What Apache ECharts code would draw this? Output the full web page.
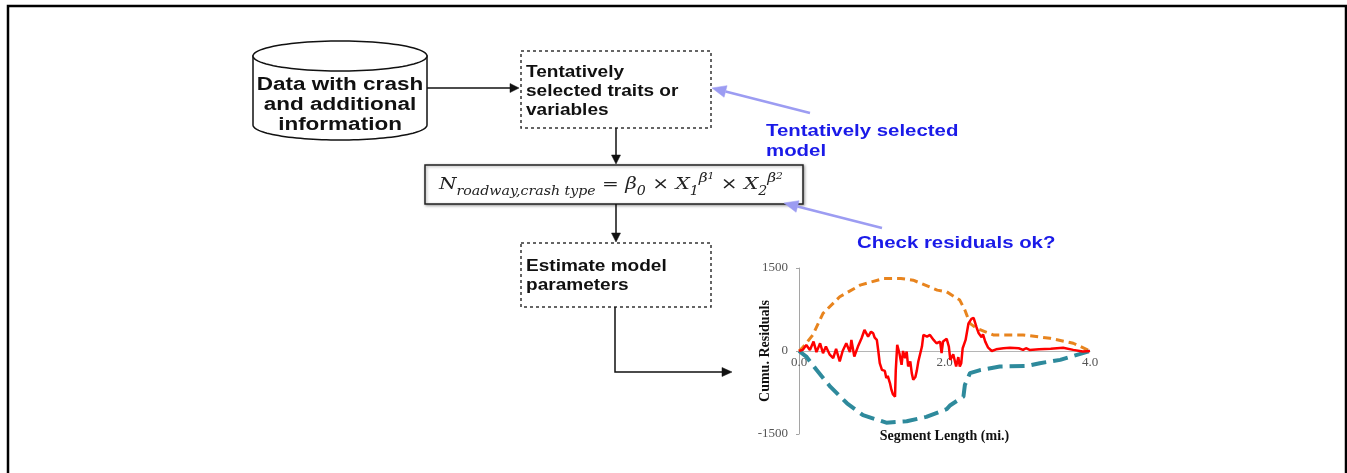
<!DOCTYPE html>
<html><head><meta charset="utf-8">
<script src="https://cdn.jsdelivr.net/npm/echarts@6/dist/echarts.min.js"></script>
<style>html,body{margin:0;padding:0;background:#fff}#c{width:1347px;height:473px}</style>
</head><body><div id="c"></div>
<script>
// ---- data ----
const residX = [0.00,0.05,0.10,0.15,0.20,0.24,0.29,0.33,0.37,0.42,0.47,0.51,0.56,0.60,0.65,0.70,0.72,0.76,0.81,0.86,0.90,0.95,0.99,1.02,1.04,1.07,1.09,1.11,1.14,1.18,1.20,1.22,1.25,1.27,1.29,1.32,1.33,1.35,1.38,1.41,1.43,1.46,1.48,1.50,1.53,1.55,1.57,1.60,1.62,1.64,1.66,1.69,1.71,1.73,1.76,1.80,1.85,1.89,1.94,1.96,1.98,2.03,2.06,2.08,2.12,2.16,2.19,2.21,2.23,2.25,2.27,2.29,2.33,2.37,2.40,2.44,2.47,2.49,2.51,2.53,2.56,2.60,2.65,2.71,2.81,2.90,3.02,3.04,3.08,3.12,3.17,3.30,3.46,3.63,3.77,3.90,4.00];
const residY = [0,20,110,20,170,-20,140,-40,80,-60,-130,40,-190,0,140,-20,200,-100,80,230,380,260,350,320,240,200,0,-220,-340,-360,-490,-450,-580,-700,-780,-825,-350,110,-40,-250,0,-130,-10,-280,-190,-400,-520,-470,-350,-190,-160,80,290,320,260,290,200,140,170,-40,170,220,80,-160,-60,-280,-110,-280,-220,50,60,200,500,580,600,430,320,350,250,300,170,60,0,30,50,60,50,70,20,50,20,30,40,60,20,-10,0];
const upperX = [0,0.05,0.19,0.33,0.56,0.84,1.16,1.40,1.57,1.90,2.03,2.21,2.28,2.35,2.44,2.67,3.08,3.45,3.77,4.0];
const upperY = [0,60,290,680,980,1190,1310,1310,1280,1100,1070,920,740,500,410,290,290,230,140,0];
const lowerX = [0,0.10,0.24,0.43,0.66,0.88,1.20,1.48,1.75,2.03,2.08,2.26,2.28,2.35,2.49,2.76,3.13,3.31,3.59,4.0];
const lowerY = [0,-100,-340,-645,-945,-1160,-1295,-1270,-1190,-1050,-980,-825,-615,-400,-345,-280,-270,-220,-160,0];
const yTicks = [-1500, 0, 1500];
const xTicks = [0, 2, 4];

const pair = (xs, ys) => xs.map((x, i) => [x, ys[i]]);

// ---- flowchart drawing helpers ----
const SANS = 'Liberation Sans, Arial, sans-serif';
function txt(x, y, lines, o) {
  o = o || {};
  return {
    type: 'text', x: x, y: y, scaleX: o.sx || 1.15, z: 10,
    style: {
      text: lines.join('\n'), x: 0, y: 0,
      font: 'bold ' + (o.size || 18) + 'px ' + SANS,
      fill: o.color || '#111', textAlign: o.align || 'left', textVerticalAlign: 'middle',
      lineHeight: o.lh || 20
    }
  };
}
function arrow(pts, color, lw, hl, hw) {
  const n = pts.length, a = pts[n - 2], b = pts[n - 1];
  const dx = b[0] - a[0], dy = b[1] - a[1], L = Math.hypot(dx, dy);
  const ux = dx / L, uy = dy / L;
  const base = [b[0] - ux * hl, b[1] - uy * hl];
  const linePts = pts.slice(0, n - 1).concat([base]);
  return [
    { type: 'polyline', z: 5, shape: { points: linePts }, style: { stroke: color, lineWidth: lw, fill: null } },
    { type: 'polygon', z: 5, shape: { points: [b, [base[0] - uy * hw, base[1] + ux * hw], [base[0] + uy * hw, base[1] - ux * hw]] }, style: { fill: color, stroke: color, lineWidth: 0.5 } }
  ];
}
function arcPts(cx, cy, rx, ry, a0, a1, steps) {
  const p = [];
  for (let i = 0; i <= steps; i++) {
    const t = a0 + (a1 - a0) * i / steps;
    p.push([cx + rx * Math.cos(t), cy + ry * Math.sin(t)]);
  }
  return p;
}
const dashBox = (x, y, w, h) => ({ type: 'rect', z: 4, shape: { x: x, y: y, width: w, height: h }, style: { fill: '#fff', stroke: '#333', lineWidth: 1.5, lineDash: [3, 3] } });

// cylinder geometry (sin >= 0 for angles PI..0, i.e. the lower half in screen coords)
const cyl = { cx: 340, top: 56, bot: 125, rx: 87, ry: 15 };
const cylBody = [[cyl.cx - cyl.rx, cyl.top]].concat(arcPts(cyl.cx, cyl.bot, cyl.rx, cyl.ry, Math.PI, 0, 60)).concat([[cyl.cx + cyl.rx, cyl.top]]);
const cylTop = arcPts(cyl.cx, cyl.top, cyl.rx, cyl.ry, 0, 2 * Math.PI, 90);

const BLUE = '#1a1ae8', LBLUE = '#9c9cf2';
const graphics = [
  // outer frame
  { type: 'rect', z: 1, shape: { x: 8, y: 6, width: 1338, height: 500 }, style: { fill: null, stroke: '#000', lineWidth: 2.5 } },
  // cylinder
  { type: 'polygon', z: 4, shape: { points: cylBody }, style: { fill: '#fff', stroke: '#111', lineWidth: 1.5 } },
  { type: 'polygon', z: 4, shape: { points: cylTop }, style: { fill: '#fff', stroke: '#111', lineWidth: 1.5 } },
  txt(340, 105, ['Data with crash', 'and additional', 'information'], { align: 'center', sx: 1.25, size: 18, lh: 20 }),
  // dashed box 1
  dashBox(521, 51, 190, 77),
  txt(526, 91, ['Tentatively', 'selected traits or', 'variables'], { sx: 1.12, size: 17, lh: 19 }),
  // formula box
  { type: 'rect', z: 4, shape: { x: 425, y: 165, width: 378, height: 39 }, style: { fill: '#fff', stroke: '#222', lineWidth: 1.5, shadowBlur: 3, shadowOffsetX: 1, shadowOffsetY: 1, shadowColor: 'rgba(0,0,0,0.35)' } },
  {
    type: 'text', x: 439, y: 185, z: 10, scaleX: 1.18,
    style: {
      x: 0, y: 0, textVerticalAlign: 'middle', textAlign: 'left',
      text: '{m|N}{sub|roadway,crash type}{m| = β}{sub|0}{m| × X}{sub|1}{sup|β}{ss|1}{m| × X}{sub|2}{sup|β}{ss|2}',
      rich: {
        m: { fontFamily: 'DejaVu Serif', fontStyle: 'italic', fontSize: 17, lineHeight: 26, fill: '#222' },
        sub: { fontFamily: 'DejaVu Serif', fontStyle: 'italic', fontSize: 12, lineHeight: 12, verticalAlign: 'bottom', fill: '#222' },
        sup: { fontFamily: 'DejaVu Serif', fontStyle: 'italic', fontSize: 13, lineHeight: 13, verticalAlign: 'top', fill: '#222' },
        ss: { fontFamily: 'DejaVu Serif', fontStyle: 'italic', fontSize: 9, lineHeight: 19, verticalAlign: 'top', fill: '#222' }
      }
    }
  },
  // dashed box 3
  dashBox(521, 243, 190, 64),
  txt(526, 276, ['Estimate model', 'parameters'], { sx: 1.12, size: 17, lh: 19 }),
  // blue annotations
  txt(766, 141, ['Tentatively selected', 'model'], { color: BLUE, sx: 1.2, size: 17, lh: 20 }),
  txt(857, 243, ['Check residuals ok?'], { color: BLUE, sx: 1.2, size: 17 })
]
  .concat(arrow([[427, 88], [519, 88]], '#111', 1.5, 9, 4.5))
  .concat(arrow([[616, 128], [616, 164]], '#111', 1.5, 9, 4.5))
  .concat(arrow([[616, 204], [616, 242]], '#111', 1.5, 9, 4.5))
  .concat(arrow([[615, 307], [615, 372], [732, 372]], '#111', 1.5, 10, 4.5))
  .concat(arrow([[810, 113], [712, 88]], LBLUE, 2.5, 14, 6))
  .concat(arrow([[882, 228], [784, 203]], LBLUE, 2.5, 14, 6));

const SERIF = 'Liberation Serif, Times New Roman, serif';
const GRID_H = 166;
const chart = echarts.init(document.getElementById('c'), null, { renderer: 'canvas' });
chart.setOption({
  animation: false,
  backgroundColor: '#fff',
  graphic: graphics,
  grid: { left: 799, top: 268, width: 291, height: GRID_H, containLabel: false, outerBoundsMode: 'none' },
  xAxis: {
    type: 'value', min: xTicks[0], max: xTicks[xTicks.length - 1], interval: xTicks[1] - xTicks[0],
    // the axis sits on y = 0, which is the middle of the symmetric y range
    offset: -GRID_H / 2,
    axisLine: { onZero: false, lineStyle: { color: '#b5b5b5', width: 1 } },
    axisTick: { show: false }, splitLine: { show: false },
    axisLabel: { formatter: v => v.toFixed(1), color: '#555', fontFamily: SERIF, fontSize: 13, margin: 5 },
    name: 'Segment Length (mi.)', nameLocation: 'middle', nameGap: 78, nameMoveOverlap: false,
    nameTextStyle: { fontFamily: SERIF, fontWeight: 'bold', fontSize: 14, color: '#111' }
  },
  yAxis: {
    type: 'value', min: yTicks[0], max: yTicks[yTicks.length - 1], interval: yTicks[1] - yTicks[0],
    axisLine: { show: true, onZero: false, lineStyle: { color: '#a5a5a5', width: 1 } },
    axisTick: { show: true, length: 3, lineStyle: { color: '#a5a5a5' } },
    splitLine: { show: false },
    axisLabel: { formatter: v => String(v), color: '#555', fontFamily: SERIF, fontSize: 13, margin: 11 },
    name: 'Cumu. Residuals', nameLocation: 'middle', nameGap: 27, nameMoveOverlap: false,
    nameTextStyle: { fontFamily: SERIF, fontWeight: 'bold', fontSize: 14, color: '#111' }
  },
  series: [
    { type: 'line', data: pair(upperX, upperY), showSymbol: false, z: 2, lineStyle: { color: '#e8841e', width: 3, type: [8, 5] } },
    { type: 'line', data: pair(lowerX, lowerY), showSymbol: false, z: 2, lineStyle: { color: '#2e8a9c', width: 4, type: [15, 7] } },
    { type: 'line', data: pair(residX, residY), showSymbol: false, z: 3, lineStyle: { color: '#ff0000', width: 2.5 } }
  ]
});
</script></body></html>
